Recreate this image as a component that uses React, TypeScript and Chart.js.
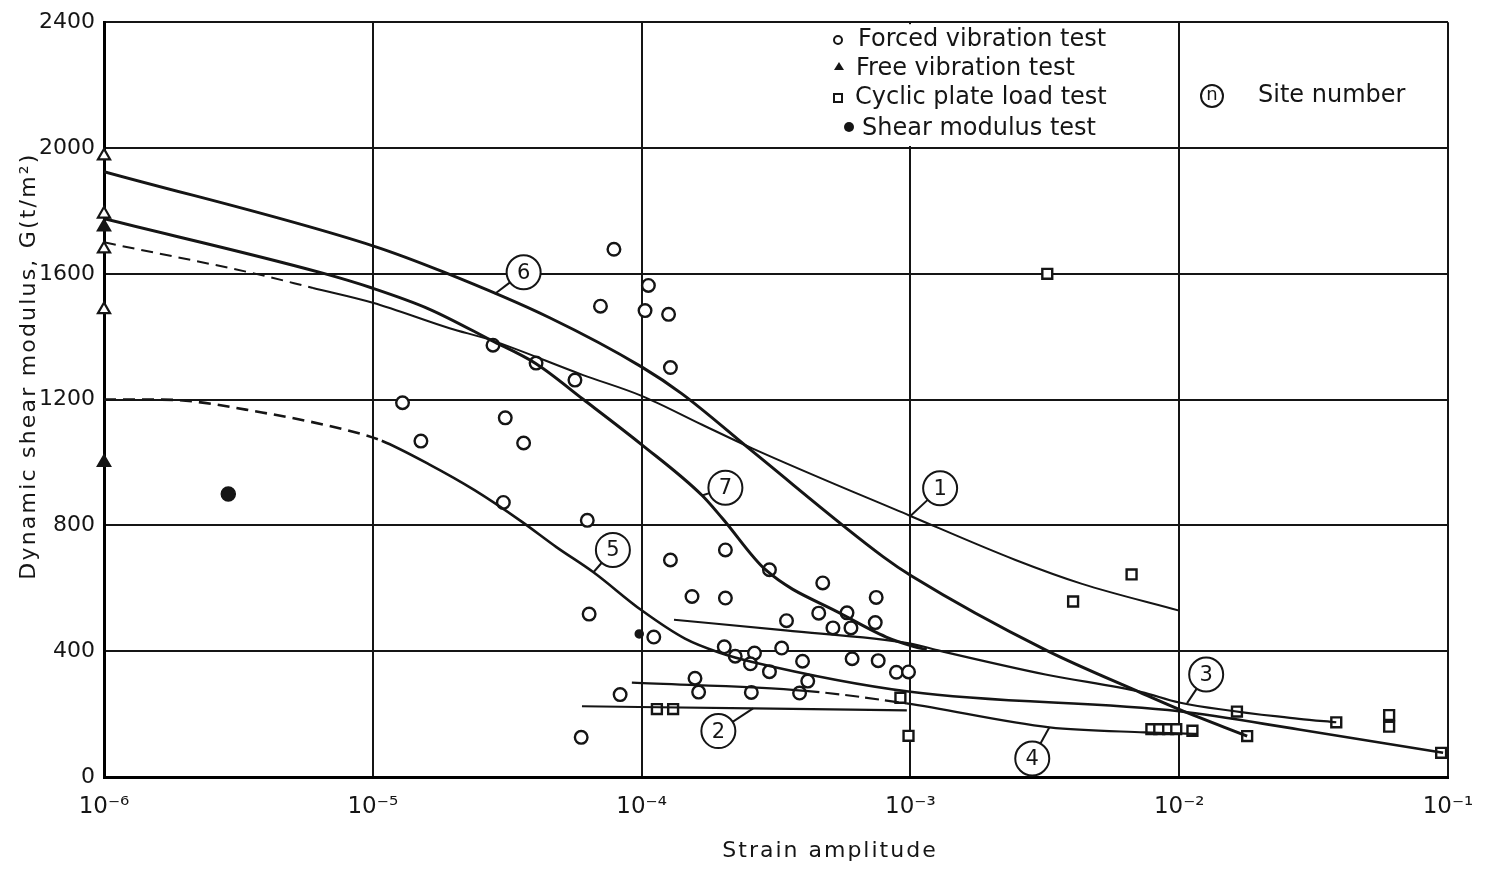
import React, { useEffect, useRef } from 'react';
import { Chart, registerables } from 'chart.js';

Chart.register(...registerables);

// ---------------- axes ----------------
const xTickValues = [1e-6, 1e-5, 1e-4, 1e-3, 1e-2, 1e-1];
const xTickLabels = ['10⁻⁶', '10⁻⁵', '10⁻⁴', '10⁻³', '10⁻²', '10⁻¹'];
const yTickValues = [0, 400, 800, 1200, 1600, 2000, 2400];
const xTitle = 'Strain amplitude';
const yTitle = 'Dynamic shear modulus, G(t/m²)';

// ---------------- legend ----------------
const legendLabels = ['Forced vibration test', 'Free vibration test', 'Cyclic plate load test', 'Shear modulus test'];
const siteLegendLabel = 'Site number';

// ---------------- curves (site numbers) ----------------
const curve1Strain = [1e-6, 3.71e-6, 5.99e-6, 1e-5, 1.93e-5, 2.75e-5, 6.06e-5, 1e-4, 1.68e-4, 2.58e-4, 1e-3, 2.46e-3, 4.35e-3, 1e-2];
const curve1G = [1700, 1599, 1555, 1508, 1427, 1389, 1278, 1212, 1120, 1045, 830, 690, 614, 529];
const curve1DashEnd = 6e-6;

const curve2Strain = [6.0e-5, 2.6e-4, 9.7e-4];
const curve2G = [225, 218, 212];

const curve3Strain = [1.32e-4, 3.43e-4, 1e-3, 1.29e-3, 3.18e-3, 7.24e-3, 1e-2, 2.79e-2, 3.84e-2];
const curve3G = [500, 466, 424, 401, 326, 270, 237, 185, 174];

const curve4Strain = [9.2e-5, 4.07e-4, 9.66e-4, 3.29e-3, 7.43e-3, 1.17e-2];
const curve4G = [300, 274, 234, 158, 142, 137];
const curve4DashFrom = 4.07e-4;
const curve4DashTo = 9.66e-4;

const curve5Strain = [1e-6, 1.64e-6, 3.87e-6, 9.12e-6, 1.08e-5, 1.62e-5, 2.39e-5, 3.58e-5, 4.82e-5, 6.62e-5, 1e-4, 1.45e-4, 1.94e-4, 2.58e-4, 1e-3, 1e-2, 2.79e-2, 9.59e-2];
const curve5G = [1200, 1200, 1159, 1090, 1069, 994, 912, 812, 731, 651, 530, 440, 396, 366, 271, 209, 151, 77];
const curve5DashEnd = 1.08e-5;

const curve6Strain = [1e-6, 1e-5, 1.83e-5, 4.53e-5, 1e-4, 1.41e-4, 2.58e-4, 7.93e-4, 1.01e-3, 3.18e-3, 7.24e-3, 1e-2, 1.79e-2];
const curve6G = [1925, 1689, 1606, 1461, 1304, 1219, 1036, 700, 639, 404, 267, 215, 130];

const curve7Strain = [1e-6, 6.51e-6, 1e-5, 1.62e-5, 2.75e-5, 4.05e-5, 6.06e-5, 1e-4, 1.68e-4, 2.0e-4, 2.89e-4, 5.61e-4, 8.13e-4, 1.03e-3, 1.15e-3];
const curve7G = [1775, 1602, 1554, 1488, 1389, 1314, 1201, 1057, 895, 822, 659, 516, 445, 415, 405];

// ---------------- site number labels ----------------
const siteNumbers = ['1', '2', '3', '4', '5', '6', '7'];
const siteStrain = [1.29e-3, 1.93e-4, 1.26e-2, 2.84e-3, 7.82e-5, 3.64e-5, 2.05e-4];
const siteG = [918, 146, 326, 59, 722, 1605, 920];
const siteTargetStrain = [1e-3, 2.6e-4, 1.07e-2, 3.29e-3, 6.62e-5, 2.84e-5, 1.68e-4];
const siteTargetG = [830, 218, 235, 158, 651, 1536, 895];

// ---------------- test points ----------------
const forcedStrain = [1.29e-5, 1.51e-5, 2.80e-5, 3.11e-5, 3.64e-5, 3.06e-5, 4.05e-5, 5.65e-5, 6.28e-5, 6.38e-5, 5.96e-5, 7.89e-5, 7.03e-5, 1.06e-4, 1.03e-4, 1.26e-4, 1.28e-4, 1.28e-4, 2.05e-4, 1.54e-4, 2.05e-4, 8.32e-5, 1.11e-4, 4.72e-4, 7.46e-4, 4.56e-4, 5.81e-4, 7.40e-4, 3.46e-4, 5.15e-4, 6.01e-4, 2.03e-4, 2.63e-4, 3.32e-4, 2.23e-4, 2.54e-4, 3.97e-4, 6.07e-4, 7.59e-4, 2.99e-4, 8.87e-4, 9.84e-4, 1.58e-4, 4.15e-4, 1.63e-4, 2.56e-4, 3.87e-4, 2.99e-4];
const forcedG = [1190, 1068, 1373, 1142, 1062, 873, 1316, 1262, 816, 518, 126, 1678, 1497, 1563, 1483, 1471, 1302, 690, 722, 574, 569, 262, 445, 617, 571, 521, 522, 491, 497, 474, 474, 414, 394, 410, 384, 360, 368, 376, 370, 335, 333, 334, 314, 305, 270, 269, 267, 659];

const freeStrain = [1e-6, 1e-6, 1e-6, 1e-6, 1e-6, 1e-6];
const freeG = [1975, 1790, 1749, 1679, 1486, 1000];
const freeFilled = [false, false, true, false, false, true];

const cyclicStrain = [3.23e-3, 6.65e-3, 4.03e-3, 9.18e-4, 9.84e-4, 1.14e-4, 1.31e-4, 7.88e-3, 8.43e-3, 9.10e-3, 9.75e-3, 1.12e-2, 1.64e-2, 1.79e-2, 3.84e-2, 6.04e-2, 6.04e-2, 9.43e-2];
const cyclicG = [1600, 644, 558, 252, 131, 216, 216, 152, 152, 152, 152, 147, 208, 130, 174, 197, 160, 77];

const shearStrain = [2.9e-6, 9.8e-5];
const shearG = [900, 455];
const shearSize = [7, 4];

// ---------------- helpers ----------------
const FONT = '"DejaVu Sans", "Liberation Sans", sans-serif';
const INK = '#151515';

const pts = (xs: number[], ys: number[]) => xs.map((x, i) => ({ x, y: ys[i] }));

const curve = (xs: number[], ys: number[], width: number, dash?: (c: any) => number[] | undefined) => ({
  type: 'line' as const,
  data: pts(xs, ys),
  showLine: true,
  borderColor: INK,
  borderWidth: width,
  pointRadius: 0,
  fill: false,
  cubicInterpolationMode: 'monotone' as const,
  segment: dash ? { borderDash: dash } : undefined,
});

const decorPlugin = {
  id: 'decor',
  beforeDatasetsDraw(chart: any) {
    const { ctx, chartArea, scales } = chart;
    // legend panel hides the 10^-3 grid line above the 2000 line
    const px = scales.x.getPixelForValue(1e-3);
    const y2000 = scales.y.getPixelForValue(2000);
    ctx.save();
    ctx.fillStyle = '#fff';
    ctx.fillRect(px - 3, chartArea.top + 2, 6, y2000 - chartArea.top - 4);
    ctx.restore();
  },
  afterDatasetsDraw(chart: any) {
    const { ctx, scales } = chart;
    ctx.save();
    for (let i = 0; i < siteNumbers.length; i++) {
      const cx = scales.x.getPixelForValue(siteStrain[i]);
      const cy = scales.y.getPixelForValue(siteG[i]);
      const tx = scales.x.getPixelForValue(siteTargetStrain[i]);
      const ty = scales.y.getPixelForValue(siteTargetG[i]);
      const r = 17;
      const dx = tx - cx;
      const dy = ty - cy;
      const d = Math.hypot(dx, dy) || 1;
      ctx.strokeStyle = INK;
      ctx.lineWidth = 2;
      ctx.beginPath();
      ctx.moveTo(cx + (dx / d) * r, cy + (dy / d) * r);
      ctx.lineTo(tx, ty);
      ctx.stroke();
      ctx.beginPath();
      ctx.arc(cx, cy, r, 0, Math.PI * 2);
      ctx.fillStyle = '#fff';
      ctx.fill();
      ctx.stroke();
      ctx.fillStyle = INK;
      ctx.font = `21px ${FONT}`;
      ctx.textAlign = 'center';
      ctx.textBaseline = 'middle';
      ctx.fillText(siteNumbers[i], cx, cy + 1);
    }
    ctx.restore();
  },
  afterDraw(chart: any) {
    const { ctx } = chart;
    ctx.save();
    ctx.fillStyle = INK;
    ctx.strokeStyle = INK;
    ctx.font = `24px ${FONT}`;
    ctx.textAlign = 'left';
    ctx.textBaseline = 'middle';
    const tx = [858, 856, 855, 862];
    const ty = [40, 69, 98, 129];
    legendLabels.forEach((t, i) => ctx.fillText(t, tx[i], ty[i]));
    // symbols
    ctx.lineWidth = 2;
    ctx.beginPath();
    ctx.arc(838, 40, 4, 0, Math.PI * 2);
    ctx.stroke();
    ctx.beginPath();
    ctx.moveTo(839, 62);
    ctx.lineTo(844, 70);
    ctx.lineTo(834, 70);
    ctx.closePath();
    ctx.fill();
    ctx.strokeRect(834, 94, 8, 8);
    ctx.beginPath();
    ctx.arc(849, 127, 5, 0, Math.PI * 2);
    ctx.fill();
    // site number key
    ctx.beginPath();
    ctx.arc(1212, 96, 11, 0, Math.PI * 2);
    ctx.stroke();
    ctx.font = `18px ${FONT}`;
    ctx.textAlign = 'center';
    ctx.fillText('n', 1212, 95);
    ctx.font = `24px ${FONT}`;
    ctx.textAlign = 'left';
    ctx.fillText(siteLegendLabel, 1258, 96);
    // axis titles
    ctx.font = `22px ${FONT}`;
    ctx.textAlign = 'center';
    (ctx as any).letterSpacing = '2px';
    ctx.fillText(xTitle, 830, 851);
    ctx.translate(29, 366);
    ctx.rotate(-Math.PI / 2);
    (ctx as any).letterSpacing = '2.2px';
    ctx.fillText(yTitle, 0, 0);
    ctx.restore();
  },
};

export default function App() {
  const ref = useRef<HTMLCanvasElement | null>(null);

  useEffect(() => {
    if (!ref.current) return;
    const chart = new Chart(ref.current, {
      type: 'scatter',
      data: {
        datasets: [
          curve(curve6Strain, curve6G, 3),
          curve(curve7Strain, curve7G, 3),
          curve(curve1Strain, curve1G, 2, (c: any) => (c.p1.parsed.x <= curve1DashEnd * 1.001 ? [12, 7] : undefined)),
          curve(curve5Strain, curve5G, 2.6, (c: any) => (c.p1.parsed.x <= curve5DashEnd * 1.001 ? [12, 7] : undefined)),
          curve(curve3Strain, curve3G, 2.2),
          curve(curve2Strain, curve2G, 2.2),
          curve(curve4Strain, curve4G, 2.2, (c: any) =>
            c.p0.parsed.x >= curve4DashFrom * 0.999 && c.p1.parsed.x <= curve4DashTo * 1.001 ? [14, 6] : undefined
          ),
          {
            data: pts(forcedStrain, forcedG),
            pointStyle: 'circle',
            pointRadius: 6.3,
            pointBorderWidth: 2.4,
            pointBorderColor: INK,
            pointBackgroundColor: '#fff',
          },
          {
            data: pts(cyclicStrain, cyclicG),
            pointStyle: 'rect',
            pointRadius: 7,
            pointBorderWidth: 2.4,
            pointBorderColor: INK,
            pointBackgroundColor: '#fff',
            clip: false,
          },
          {
            data: pts(freeStrain, freeG),
            pointStyle: 'triangle',
            pointRadius: 7,
            pointBorderWidth: 2.2,
            pointBorderColor: INK,
            pointBackgroundColor: freeFilled.map((f) => (f ? INK : '#fff')),
            clip: false,
          },
          {
            data: pts(shearStrain, shearG),
            pointStyle: 'circle',
            pointRadius: shearSize,
            pointBorderWidth: 1.5,
            pointBorderColor: INK,
            pointBackgroundColor: INK,
          },
        ] as any,
      },
      options: {
        animation: false,
        responsive: false,
        devicePixelRatio: 1,
        events: [],
        layout: { padding: { top: 12, right: 53, left: 0, bottom: 0 } },
        plugins: { legend: { display: false }, tooltip: { enabled: false } },
        scales: {
          x: {
            type: 'logarithmic',
            min: 1e-6,
            max: 1e-1,
            afterBuildTicks: (axis: any) => {
              axis.ticks = xTickValues.map((value) => ({ value }));
            },
            afterFit: (axis: any) => {
              axis.height = 93;
            },
            grid: { color: INK, lineWidth: 2, drawTicks: false },
            border: { color: '#000', width: 3 },
            ticks: {
              autoSkip: false,
              maxRotation: 0,
              padding: 16,
              color: INK,
              font: { family: FONT, size: 23 },
              callback: (_v: any, i: number) => xTickLabels[i],
            },
          },
          y: {
            type: 'linear',
            min: 0,
            max: 2400,
            afterBuildTicks: (axis: any) => {
              axis.ticks = yTickValues.map((value) => ({ value }));
            },
            afterFit: (axis: any) => {
              axis.width = 104;
            },
            grid: { color: INK, lineWidth: 2, drawTicks: false },
            border: { color: '#000', width: 3 },
            ticks: {
              padding: 9,
              color: INK,
              font: { family: FONT, size: 22 },
              callback: (v: any) => String(v),
            },
          },
        },
      } as any,
      plugins: [decorPlugin],
    });
    return () => chart.destroy();
  }, []);

  return (
    <div style={{ position: 'absolute', left: 0, top: 0, width: 1501, height: 870, background: '#fff' }}>
      <canvas ref={ref} width={1501} height={870} style={{ display: 'block' }} />
    </div>
  );
}
